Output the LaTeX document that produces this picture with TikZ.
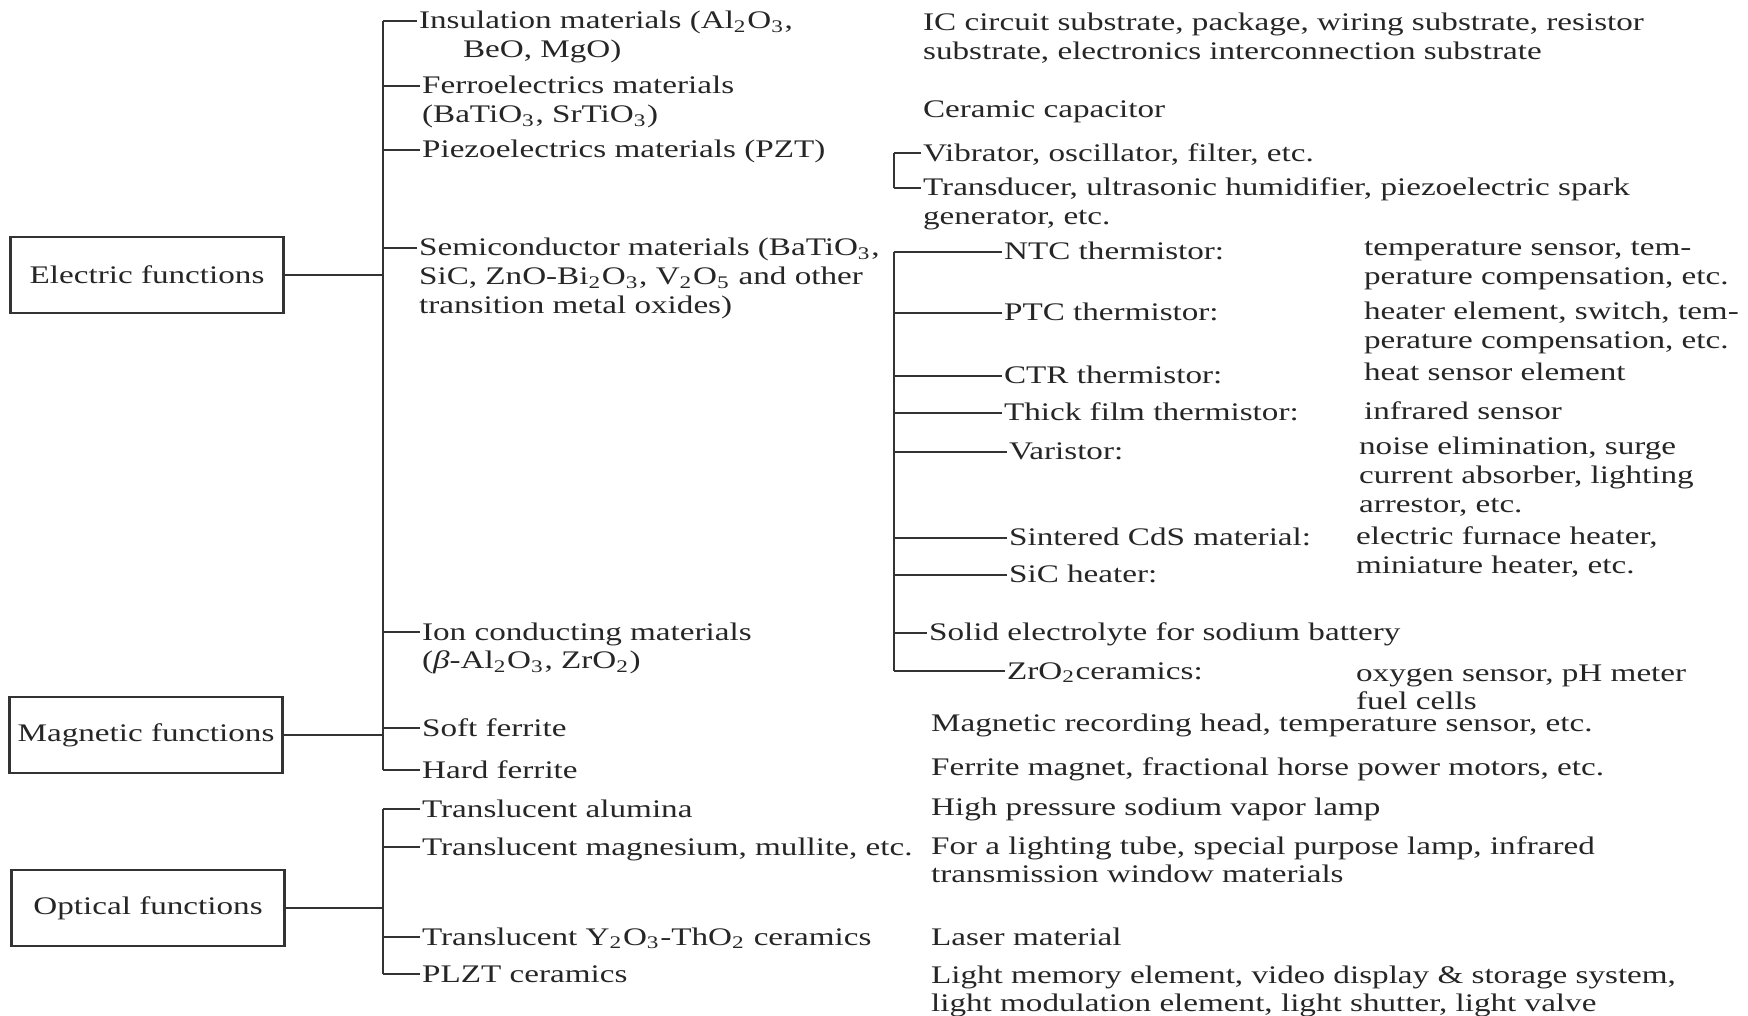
\documentclass[tikz,border=0pt]{standalone}
\usepackage{fontspec}
\setmainfont{Liberation Serif}[FakeStretch=1.31]
\usetikzlibrary{shapes}
\newcommand{\rows}[1]{\begin{tabular}[t]{@{}l@{}}#1\end{tabular}}
\tikzstyle{func}  = [draw, line width=0.6pt, rectangle, minimum width=27.3mm, minimum height=7.6mm, inner sep=0pt]
\tikzstyle{item}  = [anchor=base west, inner sep=0.4pt]
\tikzstyle{line}  = [draw, line width=0.45pt]

\begin{document}
\begin{tikzpicture}[x=0.1mm, y=-0.1mm, font=\fontsize{7.2}{8.25}\selectfont, text=black!85, draw=black!80]
	\useasboundingbox (0,0) rectangle (1748,1016);
	% Node Setting %
	\node [func] (elec) at (147,275) {Electric functions};
	\node [func] (magn) at (146,735) {Magnetic functions};
	\node [func] (opti) at (148,908) {Optical functions};
	% materials
	\node [item] (ins) at (417,29) {\rows{Insulation materials (Al\textsubscript{2}O\textsubscript{3},\\\hspace*{4.4mm}BeO, MgO)}};
	\node [item] (fer) at (420,94) {\rows{Ferroelectrics materials\\(BaTiO\textsubscript{3}, SrTiO\textsubscript{3})}};
	\node [item] (pie) at (420,158) {Piezoelectrics materials (PZT)};
	\node [item] (sem) at (417,256) {\rows{Semiconductor materials (BaTiO\textsubscript{3},\\SiC, ZnO-Bi\textsubscript{2}O\textsubscript{3}, V\textsubscript{2}O\textsubscript{5} and other\\transition metal oxides)}};
	\node [item] (ion) at (420,640) {\rows{Ion conducting materials\\(\textit{β}-Al\textsubscript{2}O\textsubscript{3}, ZrO\textsubscript{2})}};
	\node [item] (sof) at (420,736) {Soft ferrite};
	\node [item] (har) at (420,778) {Hard ferrite};
	\node [item] (tal) at (420,817) {Translucent alumina};
	\node [item] (tmg) at (420,855) {Translucent magnesium, mullite, etc.};
	\node [item] (tyt) at (420,945) {Translucent Y\textsubscript{2}O\textsubscript{3}-ThO\textsubscript{2} ceramics};
	\node [item] (plz) at (420,982) {PLZT ceramics};
	% uses
	\node [item] (ic)  at (921,31) {\rows{IC circuit substrate, package, wiring substrate, resistor\\substrate, electronics interconnection substrate}};
	\node [item] (cap) at (921,118) {Ceramic capacitor};
	\node [item] (vib) at (921,162) {Vibrator, oscillator, filter, etc.};
	\node [item] (tra) at (921,196) {\rows{Transducer, ultrasonic humidifier, piezoelectric spark\\generator, etc.}};
	\node [item] (ntc) at (1002,260) {NTC thermistor:};
	\node [item] (ptc) at (1002,321) {PTC thermistor:};
	\node [item] (ctr) at (1002,384) {CTR thermistor:};
	\node [item] (thf) at (1002,421) {Thick film thermistor:};
	\node [item] (var) at (1007,460) {Varistor:};
	\node [item] (cds) at (1007,546) {Sintered CdS material:};
	\node [item] (sih) at (1007,583) {SiC heater:};
	\node [item] (sol) at (927,641) {Solid electrolyte for sodium battery};
	\node [item] (zro) at (1005,679) {ZrO\textsubscript{2}ceramics:};
	\node [item] (ntcu) at (1362,256) {\rows{temperature sensor, tem-\\perature compensation, etc.}};
	\node [item] (ptcu) at (1362,320) {\rows{heater element, switch, tem-\\perature compensation, etc.}};
	\node [item] (ctru) at (1362,381) {heat sensor element};
	\node [item] (thfu) at (1362,420) {infrared sensor};
	\node [item] (varu) at (1357,455) {\rows{noise elimination, surge\\current absorber, lighting\\arrestor, etc.}};
	\node [item] (cdsu) at (1354,545) {\rows{electric furnace heater,\\miniature heater, etc.}};
	\node [item] (zrou) at (1354,681) {\rows{oxygen sensor, pH meter\\fuel cells}};
	\node [item] (mrh) at (929,731) {Magnetic recording head, temperature sensor, etc.};
	\node [item] (fmg) at (929,775) {Ferrite magnet, fractional horse power motors, etc.};
	\node [item] (hps) at (929,815) {High pressure sodium vapor lamp};
	\node [item] (flt) at (929,854) {\rows{For a lighting tube, special purpose lamp, infrared\\transmission window materials}};
	\node [item] (las) at (929,945) {Laser material};
	\node [item] (lme) at (929,983) {\rows{Light memory element, video display \& storage system,\\light modulation element, light shutter, light valve}};
	% branch points
	\coordinate (e1) at (383,21);
	\coordinate (e2) at (383,86);
	\coordinate (e3) at (383,150);
	\coordinate (e4) at (383,248);
	\coordinate (e5) at (383,632);
	\coordinate (m1) at (383,728);
	\coordinate (m2) at (383,770);
	\coordinate (o1) at (383,809);
	\coordinate (o2) at (383,847);
	\coordinate (o3) at (383,937);
	\coordinate (o4) at (383,974);
	\coordinate (p1) at (894,153);
	\coordinate (p2) at (894,188);
	\coordinate (s1) at (894,252);
	\coordinate (s2) at (894,313);
	\coordinate (s3) at (894,376);
	\coordinate (s4) at (894,413);
	\coordinate (s5) at (894,452);
	\coordinate (s6) at (894,538);
	\coordinate (s7) at (894,575);
	\coordinate (s8) at (894,633);
	\coordinate (s9) at (894,671);
	% Connection %
	\path [line] (elec.east) -- (elec.east -| e1);
	\path [line] (magn.east) -- (magn.east -| m1);
	\path [line] (opti.east) -- (opti.east -| o1);
	\path [line] (e1) -- (m2);
	\path [line] (o1) -- (o4);
	\path [line] (p1) -- (p2);
	\path [line] (s1) -- (s9);
	\foreach \c/\n in {e1/ins, e2/fer, e3/pie, e4/sem, e5/ion, m1/sof, m2/har,
		o1/tal, o2/tmg, o3/tyt, o4/plz, p1/vib, p2/tra,
		s1/ntc, s2/ptc, s3/ctr, s4/thf, s5/var, s6/cds, s7/sih, s8/sol, s9/zro}
		\path [line] (\c) -- (\c -| \n.west);
\end{tikzpicture}
\end{document}
